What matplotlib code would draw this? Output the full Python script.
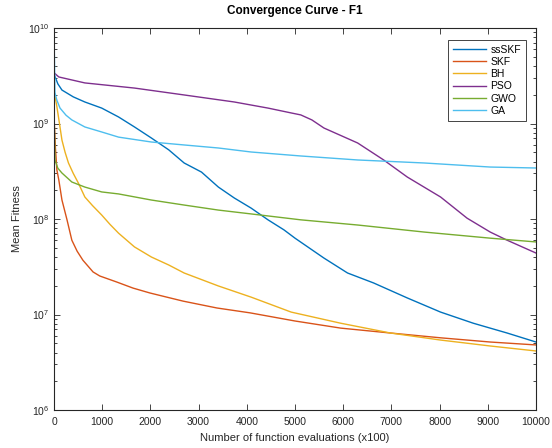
import numpy as np
import matplotlib
matplotlib.use('Agg')
import matplotlib.pyplot as plt
from matplotlib.ticker import LogLocator, MultipleLocator, NullFormatter

# Data (function evaluations x100, mean fitness)
ss_x = [0, 80, 165, 400, 640, 990, 1340, 1670, 2020, 2380, 2700, 3060, 3410, 3740, 4090, 4440,
        4770, 5000, 5600, 6090, 6630, 7330, 8020, 8700, 9400, 10000]
ss_y = [3.3e9, 2.6e9, 2.24e9, 1.9e9, 1.68e9, 1.45e9, 1.17e9, 9.2e8, 7.05e8, 5.3e8, 3.86e8,
        3.1e8, 2.16e8, 1.66e8, 1.30e8, 9.8e7, 7.7e7, 6.3e7, 3.9e7, 2.72e7, 2.14e7, 1.49e7,
        1.06e7, 8.1e6, 6.4e6, 5.15e6]

skf_x = [0, 30, 60, 100, 165, 270, 370, 480, 600, 810, 950, 1300, 1640, 1990, 2340, 2680, 3380,
         4070, 5000, 5950, 6980, 8020, 9050, 10000]
skf_y = [1.2e9, 5.5e8, 3.26e8, 2.56e8, 1.58e8, 9.8e7, 6.0e7, 4.6e7, 3.7e7, 2.79e7, 2.53e7,
         2.19e7, 1.89e7, 1.68e7, 1.52e7, 1.38e7, 1.17e7, 1.04e7, 8.55e6, 7.2e6, 6.4e6, 5.7e6,
         5.15e6, 4.8e6]

bh_x = [0, 60, 120, 165, 230, 300, 400, 505, 640, 800, 990, 1160, 1340, 1670, 2020, 2380, 2700,
        3410, 4090, 4920, 5950, 6980, 8020, 9050, 10000]
bh_y = [2.2e9, 1.5e9, 9.5e8, 6.7e8, 5.0e8, 3.86e8, 3.0e8, 2.38e8, 1.7e8, 1.38e8, 1.10e8, 8.8e7,
        7.1e7, 5.1e7, 4.0e7, 3.3e7, 2.72e7, 1.99e7, 1.52e7, 1.06e7, 8.1e6, 6.4e6, 5.4e6,
        4.68e6, 4.15e6]

pso_x = [0, 100, 640, 1670, 2700, 3740, 4440, 4920, 5120, 5350, 5600, 6300, 6840, 7330, 8020,
         8570, 9050, 9400, 10000]
pso_y = [3.4e9, 3.07e9, 2.66e9, 2.35e9, 1.99e9, 1.68e9, 1.45e9, 1.29e9, 1.23e9, 1.09e9, 8.97e8,
         6.25e8, 4.15e8, 2.75e8, 1.70e8, 1.02e8, 7.3e7, 6.0e7, 4.4e7]

gwo_x = [0, 20, 80, 165, 370, 640, 990, 1340, 2020, 2700, 3410, 4090, 5120, 6300, 7680, 9050,
         10000]
gwo_y = [1.5e9, 4.15e8, 3.4e8, 3.03e8, 2.44e8, 2.16e8, 1.92e8, 1.83e8, 1.58e8, 1.40e8, 1.24e8,
         1.13e8, 9.8e7, 8.65e7, 7.3e7, 6.3e7, 5.75e7]

ga_x = [0, 20, 60, 125, 250, 370, 640, 990, 1340, 2020, 2700, 3410, 4090, 5120, 6300, 7680,
        9050, 10000]
ga_y = [9.5e9, 2.1e9, 1.75e9, 1.45e9, 1.22e9, 1.09e9, 9.2e8, 8.15e8, 7.2e8, 6.4e8, 5.96e8,
        5.54e8, 5.03e8, 4.57e8, 4.15e8, 3.86e8, 3.5e8, 3.42e8]

names = ['ssSKF', 'SKF', 'BH', 'PSO', 'GWO', 'GA']
colors = ['#0072BD', '#D95319', '#EDB120', '#7E2F8E', '#77AC30', '#4DBEEE']

plt.rcParams['font.family'] = ['Liberation Sans', 'DejaVu Sans']
plt.rcParams['mathtext.fontset'] = 'custom'
plt.rcParams['mathtext.rm'] = 'Liberation Sans'

fig = plt.figure(figsize=(5.52, 4.48), dpi=100)
ax = fig.add_axes([54 / 552, 1 - 410 / 448, (536 - 54) / 552, (410 - 28) / 448])

series = [(ss_x, ss_y), (skf_x, skf_y), (bh_x, bh_y), (pso_x, pso_y), (gwo_x, gwo_y), (ga_x, ga_y)]
for (x, y), name, c in zip(series, names, colors):
    ax.plot(x, y, color=c, lw=1.0, label=name)

ax.set_yscale('log')
ax.set_xlim(0, 10000)
ax.set_ylim(1e6, 1e10)
ax.xaxis.set_major_locator(MultipleLocator(1000))
ax.yaxis.set_major_locator(LogLocator(base=10, numticks=10))
ax.yaxis.set_minor_locator(LogLocator(base=10, subs=np.arange(2, 10), numticks=20))
ax.yaxis.set_minor_formatter(NullFormatter())

axcol = '#262626'
for s in ax.spines.values():
    s.set_color(axcol)
    s.set_linewidth(0.8)
ax.tick_params(which='both', direction='in', top=True, right=True, colors=axcol,
               labelsize=7.5, width=0.6)
ax.tick_params(which='major', length=4)
ax.tick_params(which='minor', length=2.5)
ax.tick_params(axis='x', pad=5)

ax.set_title('Convergence Curve - F1', fontsize=8.5, fontweight='bold', pad=10)
ax.set_xlabel('Number of function evaluations (x100)', fontsize=8, color=axcol, labelpad=4)
ax.set_ylabel('Mean Fitness', fontsize=8, color=axcol, labelpad=4)

leg = ax.legend(loc='upper right', bbox_to_anchor=(0.979, 0.969), fontsize=7.5,
                fancybox=False, framealpha=1, edgecolor=axcol, handlelength=3.2,
                borderaxespad=0, labelspacing=0.22, handletextpad=0.4, borderpad=0.45)
leg.get_frame().set_linewidth(0.6)

fig.savefig('out.png', dpi=100)
